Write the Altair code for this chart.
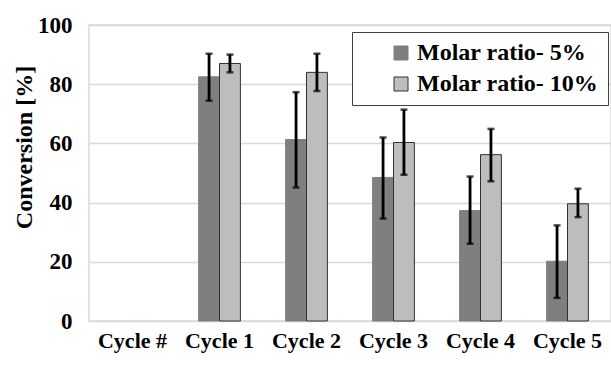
import altair as alt
import pandas as pd

categories = ["Cycle #", "Cycle 1", "Cycle 2", "Cycle 3", "Cycle 4", "Cycle 5"]
cycles = ["Cycle 1", "Cycle 2", "Cycle 3", "Cycle 4", "Cycle 5"]
series = ["Molar ratio- 5%", "Molar ratio- 10%"]

m5 = [82.5, 61.3, 48.5, 37.3, 20.2]
m5_lo = [74.4, 45.1, 34.6, 26.1, 7.8]
m5_hi = [90.3, 77.3, 62.0, 48.8, 32.3]

m10 = [87.0, 84.0, 60.3, 56.2, 39.6]
m10_lo = [84.0, 77.7, 49.4, 47.2, 35.1]
m10_hi = [90.0, 90.3, 71.4, 64.9, 44.7]

rows = []
for i, c in enumerate(cycles):
    rows.append(dict(cycle=c, series=series[0], value=m5[i], lo=m5_lo[i], hi=m5_hi[i]))
    rows.append(dict(cycle=c, series=series[1], value=m10[i], lo=m10_lo[i], hi=m10_hi[i]))
df = pd.DataFrame(rows)

FONT = "Liberation Serif"

x = alt.X(
    "cycle:N",
    scale=alt.Scale(domain=categories, paddingInner=0.52, paddingOuter=0.26),
    axis=alt.Axis(title=None, labelAngle=0, labelFontSize=22, labelPadding=9,
                  ticks=False, domain=False, grid=False),
)
xo = alt.XOffset("series:N", scale=alt.Scale(domain=series, paddingInner=0, paddingOuter=0))
y = alt.Y(
    "value:Q",
    scale=alt.Scale(domain=[0, 100]),
    axis=alt.Axis(values=[0, 20, 40, 60, 80, 100], title="Conversion  [%]",
                  labelFontSize=23, labelPadding=17, ticks=False, domain=False,
                  gridColor="#d9d9d9", gridWidth=1.5,
                  titleFontSize=24, titleX=-65, titleY=122, titleAngle=270,
                  titleBaseline="middle", titleAlign="center"),
)

legend = alt.Legend(
    title=None, orient="none", legendX=263, legendY=7,
    labelLimit=400,
    symbolType="square", symbolSize=196, symbolStrokeWidth=1,
    padding=9, symbolOffset=28, rowPadding=7,
    fillColor="white", strokeColor="#404040",
)

bars = alt.Chart(df).mark_bar(strokeWidth=1).encode(
    x=x, xOffset=xo, y=y,
    color=alt.Color("series:N", scale=alt.Scale(domain=series, range=["#7f7f7f", "#bdbdbd"]), legend=legend),
    stroke=alt.Stroke("series:N", scale=alt.Scale(domain=series, range=["#7f7f7f", "#303030"]), legend=legend),
)

rules = alt.Chart(df).mark_rule(color="black", strokeWidth=2.8).encode(
    x=x, xOffset=xo, y="lo:Q", y2="hi:Q",
)
caps_lo = alt.Chart(df).mark_tick(color="black", size=7, thickness=2.5).encode(
    x=x, xOffset=xo, y="lo:Q",
)
caps_hi = alt.Chart(df).mark_tick(color="black", size=7, thickness=2.5).encode(
    x=x, xOffset=xo, y="hi:Q",
)

chart = alt.layer(bars, rules, caps_lo, caps_hi).properties(
    width=522, height=296,
    autosize=alt.AutoSizeParams(type="none"),
    padding={"left": 89, "top": 25, "right": 0, "bottom": 45},
).configure(
    font=FONT,
).configure_axis(
    labelFontWeight="bold", titleFontWeight="bold",
    labelColor="black", titleColor="black", labelFont=FONT, titleFont=FONT,
).configure_legend(
    labelFont=FONT, labelFontSize=24, labelFontWeight="bold", labelColor="black",
).configure_view(
    stroke="#d9d9d9", strokeWidth=1.5,
)

chart.save("out.html", embed_options={"renderer": "svg", "actions": False})
